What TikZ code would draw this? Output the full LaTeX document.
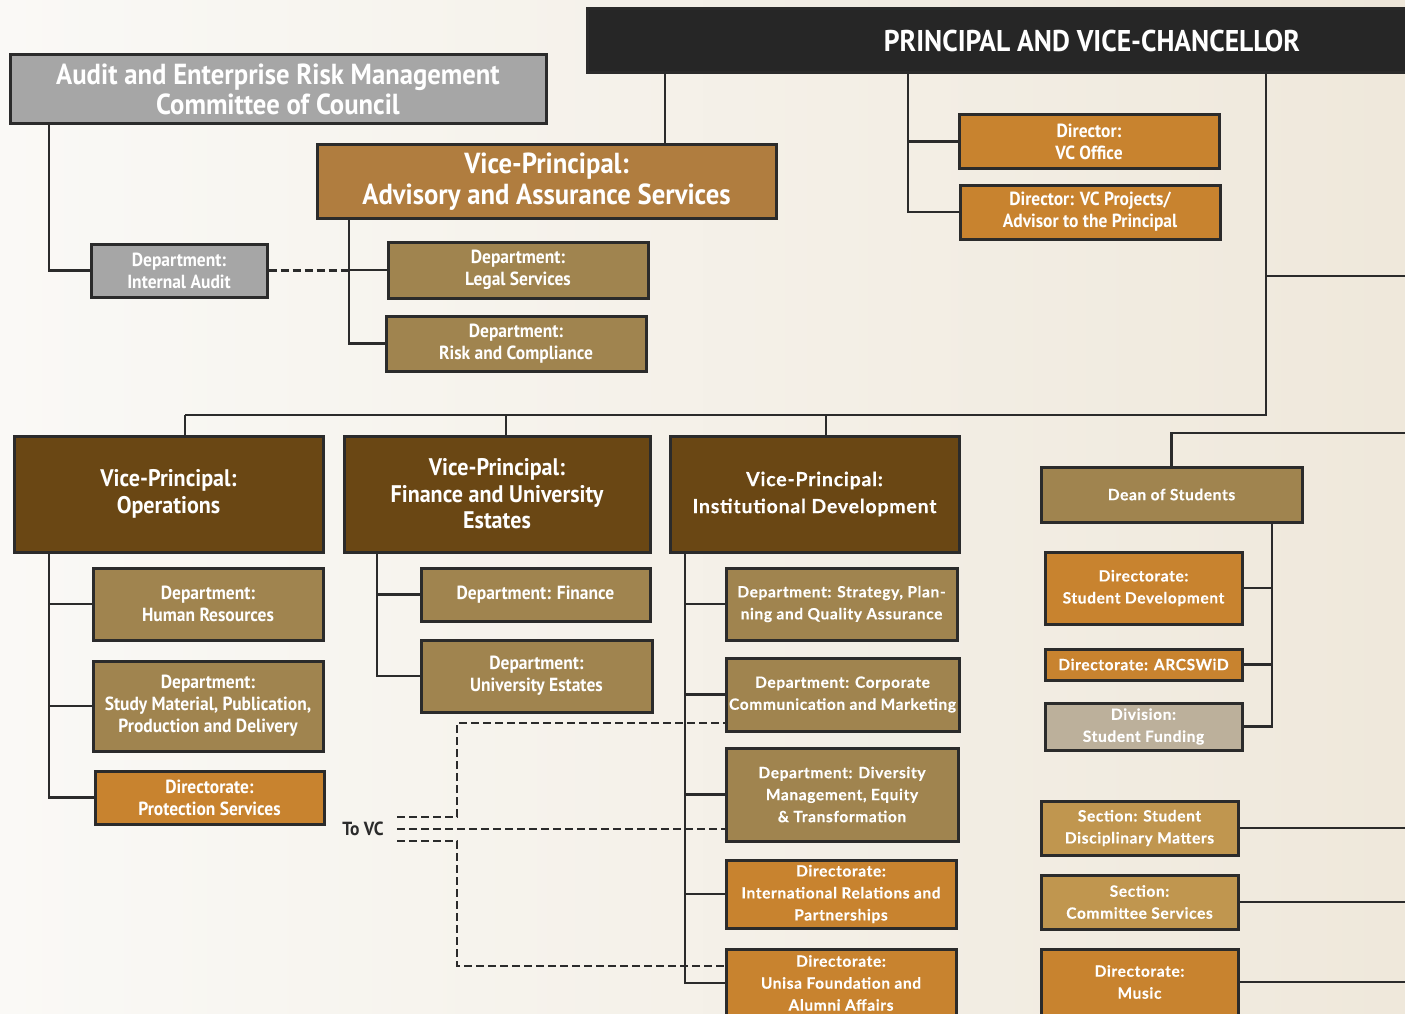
\documentclass[tikz,border=0pt]{standalone}
\usepackage{fontspec}
\setmainfont{PT Sans}
\newfontfamily\narrowfont[FakeStretch=0.92]{PT Sans}
\newfontfamily\widefont[LetterSpace=4, FakeBold=0.3]{Lato}
\usetikzlibrary{positioning}

\definecolor{bgleft}{HTML}{FAF9F6}
\definecolor{bgright}{HTML}{EFE8DB}
\definecolor{pvcblack}{HTML}{262626}
\definecolor{auditgray}{HTML}{A6A6A6}
\definecolor{advbrown}{HTML}{B07D3F}
\definecolor{depttan}{HTML}{A0844F}
\definecolor{dirorange}{HTML}{C8832F}
\definecolor{vpbrown}{HTML}{6A4714}
\definecolor{fundgray}{HTML}{BCB09B}
\definecolor{sectan}{HTML}{C0964F}
\definecolor{linecol}{HTML}{2B2B2B}

\tikzset{
  orgbox/.style={draw=linecol, line width=3pt, align=center, text=white, inner sep=0pt},
  topbox/.style={orgbox, fill=pvcblack, font=\narrowfont\bfseries\fontsize{30}{34}\selectfont},
  auditbox/.style={orgbox, fill=auditgray},
  advbox/.style={orgbox, fill=advbrown},
  deptbox/.style={orgbox, fill=depttan},
  dirbox/.style={orgbox, fill=dirorange},
  vpbox/.style={orgbox, fill=vpbrown},
  fundbox/.style={orgbox, fill=fundgray},
  secbox/.style={orgbox, fill=sectan},
  titletext/.style={font=\narrowfont\bfseries\fontsize{29}{30.5}\selectfont},
  vptext/.style={font=\narrowfont\bfseries\fontsize{24}{26.5}\selectfont},
  smalltext/.style={font=\narrowfont\bfseries\fontsize{19}{22}\selectfont},
  widetitle/.style={font=\widefont\bfseries\fontsize{19.5}{27}\selectfont},
  widetext/.style={font=\widefont\bfseries\fontsize{15.5}{22}\selectfont},
  link/.style={draw=linecol, line width=2.5pt},
  dashlink/.style={link, dash pattern=on 8pt off 4pt}
}

\begin{document}
\begin{tikzpicture}[x=1pt, y=-1pt]
\useasboundingbox (0,0) rectangle (1405,1014);
\clip (0,0) rectangle (1405,1014);
\shade[left color=bgleft, right color=bgright] (0,0) rectangle (1405,1014);

% top level
\node[topbox, minimum width=1010pt, minimum height=64pt] (pvc) at (1092,41) {PRINCIPAL AND VICE-CHANCELLOR};
\node[auditbox, titletext, minimum width=536pt, minimum height=69pt] (audit) at (278,89.5) {Audit and Enterprise Risk Management\\Committee of Council};
\node[advbox, titletext, minimum width=459pt, minimum height=73pt] (advisory) at (546.5,181.5) {Vice-Principal:\\Advisory and Assurance Services};
\node[auditbox, smalltext, minimum width=176pt, minimum height=53pt] (internal) at (179,270.5) {Department:\\Internal Audit};
\node[deptbox, smalltext, minimum width=260pt, minimum height=56pt] (legal) at (518,270) {Department:\\Legal Services};
\node[deptbox, smalltext, minimum width=260pt, minimum height=55pt] (risk) at (516,343.5) {Department:\\Risk and Compliance};
\node[dirbox, smalltext, minimum width=260pt, minimum height=53pt] (vcoffice) at (1089,141.5) {Director:\\VC Office};
\node[dirbox, smalltext, minimum width=260pt, minimum height=54pt] (vcproj) at (1090,212) {Director: VC Projects/\\Advisor to the Principal};

% vice-principals
\node[vpbox, vptext, minimum width=309pt, minimum height=116pt] (ops) at (168.5,494) {Vice-Principal:\\Operations};
\node[vpbox, vptext, minimum width=306pt, minimum height=116pt] (finance) at (497,494) {Vice-Principal:\\Finance and University\\Estates};
\node[vpbox, widetitle, minimum width=289pt, minimum height=116pt] (instdev) at (814.5,494) {Vice-Principal:\\Institutional Development};

% operations
\node[deptbox, smalltext, minimum width=230pt, minimum height=72pt] (hr) at (208,604) {Department:\\Human Resources};
\node[deptbox, smalltext, minimum width=230pt, minimum height=90pt] (study) at (208,706) {Department:\\Study Material, Publication,\\Production and Delivery};
\node[dirbox, smalltext, minimum width=229pt, minimum height=53pt] (protect) at (209.5,797.5) {Directorate:\\Protection Services};

% finance
\node[deptbox, smalltext, minimum width=229pt, minimum height=53pt] (findept) at (535.5,594.5) {Department: Finance};
\node[deptbox, smalltext, minimum width=231pt, minimum height=72pt] (estates) at (536.5,676) {Department:\\University Estates};

% institutional development
\node[deptbox, widetext, minimum width=231pt, minimum height=72pt] (strategy) at (841.5,604) {Department: Strategy, Plan-\\ning and Quality Assurance};
\node[deptbox, widetext, minimum width=233pt, minimum height=73pt] (corporate) at (842.5,694.5) {Department: Corporate\\Communication and Marketing};
\node[deptbox, widetext, minimum width=232pt, minimum height=93pt] (diversity) at (842,794.5) {Department: Diversity\\Management, Equity\\\& Transformation};
\node[dirbox, widetext, minimum width=230pt, minimum height=68pt] (intl) at (841,894) {Directorate:\\International Relations and\\Partnerships};
\node[dirbox, widetext, minimum width=230pt, minimum height=68pt] (unisa) at (841,983) {Directorate:\\Unisa Foundation and\\Alumni Affairs};

% students
\node[deptbox, widetext, minimum width=261pt, minimum height=55pt] (dean) at (1171.5,494.5) {Dean of Students};
\node[dirbox, widetext, minimum width=197pt, minimum height=72pt] (studdev) at (1143.5,588) {Directorate:\\Student Development};
\node[dirbox, widetext, minimum width=197pt, minimum height=31pt] (arcswid) at (1143.5,664.5) {Directorate: ARCSWiD};
\node[fundbox, widetext, minimum width=197pt, minimum height=47pt] (funding) at (1143.5,726.5) {Division:\\Student Funding};
\node[secbox, widetext, minimum width=197pt, minimum height=54pt] (discipl) at (1139.5,828) {Section: Student\\Disciplinary Matters};
\node[secbox, widetext, minimum width=197pt, minimum height=54pt] (committee) at (1139.5,902) {Section:\\Committee Services};
\node[dirbox, widetext, minimum width=197pt, minimum height=66pt] (music) at (1139.5,982) {Directorate:\\Music};

\node[text=linecol, font=\narrowfont\bfseries\fontsize{19}{22}\selectfont] (tovc) at (363,829) {To VC};

% spines and turning points
\coordinate (auditspine) at (49,0);
\coordinate (advspine) at (349,0);
\coordinate (advdrop) at (665,0);
\coordinate (vcspine) at (908,0);
\coordinate (mainspine) at (1266,0);
\coordinate (opsdrop) at (185,415);
\coordinate (findrop) at (506,415);
\coordinate (iddrop) at (826,415);
\coordinate (finspine) at (377,0);
\coordinate (idspine) at (685,0);
\coordinate (deanspine) at (1272,0);
\coordinate (rightout) at (1415,276);
\coordinate (deanin) at (1415,433);
\coordinate (edge) at (1415,0);
\coordinate (vctopstart) at (397,817);
\coordinate (vctopturn) at (457,723);
\coordinate (vcmidstart) at (397,829);
\coordinate (vcbotstart) at (397,841);
\coordinate (vcbotturn) at (457,966);

% connectors
\draw[link] (pvc.south -| advdrop) -- (advisory.north -| advdrop);
\draw[link] (pvc.south -| vcspine) |- (vcoffice.west);
\draw[link] (pvc.south -| vcspine) |- (vcproj.west);
\draw[link] (pvc.south -| mainspine) |- (opsdrop);
\draw[link] (rightout -| mainspine) -- (rightout);
\draw[link] (opsdrop) -- (opsdrop |- ops.north);
\draw[link] (findrop) -- (findrop |- finance.north);
\draw[link] (iddrop) -- (iddrop |- instdev.north);

\draw[link] (audit.south -| auditspine) |- (internal.west);
\draw[dashlink] (internal.east) -- (internal.east -| advspine);
\draw[link] (advisory.south -| advspine) |- (legal.west);
\draw[link] (advisory.south -| advspine) |- (risk.west);

\draw[link] (ops.south -| auditspine) |- (hr.west);
\draw[link] (ops.south -| auditspine) |- (study.west);
\draw[link] (ops.south -| auditspine) |- (protect.west);

\draw[link] (finance.south -| finspine) |- (findept.west);
\draw[link] (finance.south -| finspine) |- (estates.west);

\draw[link] (instdev.south -| idspine) |- (strategy.west);
\draw[link] (instdev.south -| idspine) |- (corporate.west);
\draw[link] (instdev.south -| idspine) |- (diversity.west);
\draw[link] (instdev.south -| idspine) |- (intl.west);
\draw[link] (instdev.south -| idspine) |- (unisa.west);

\draw[link] (deanin) -| (dean.north);
\draw[link] (dean.south -| deanspine) |- (studdev.east);
\draw[link] (dean.south -| deanspine) |- (arcswid.east);
\draw[link] (dean.south -| deanspine) |- (funding.east);
\draw[link] (discipl.east) -- (discipl.east -| edge);
\draw[link] (committee.east) -- (committee.east -| edge);
\draw[link] (music.east) -- (music.east -| edge);

\draw[dashlink] (vctopstart) -| (vctopturn) -- (vctopturn -| corporate.west);
\draw[dashlink] (vcmidstart) -- (vcmidstart -| diversity.west);
\draw[dashlink] (vcbotstart) -| (vcbotturn) -- (vcbotturn -| unisa.west);

\end{tikzpicture}
\end{document}
